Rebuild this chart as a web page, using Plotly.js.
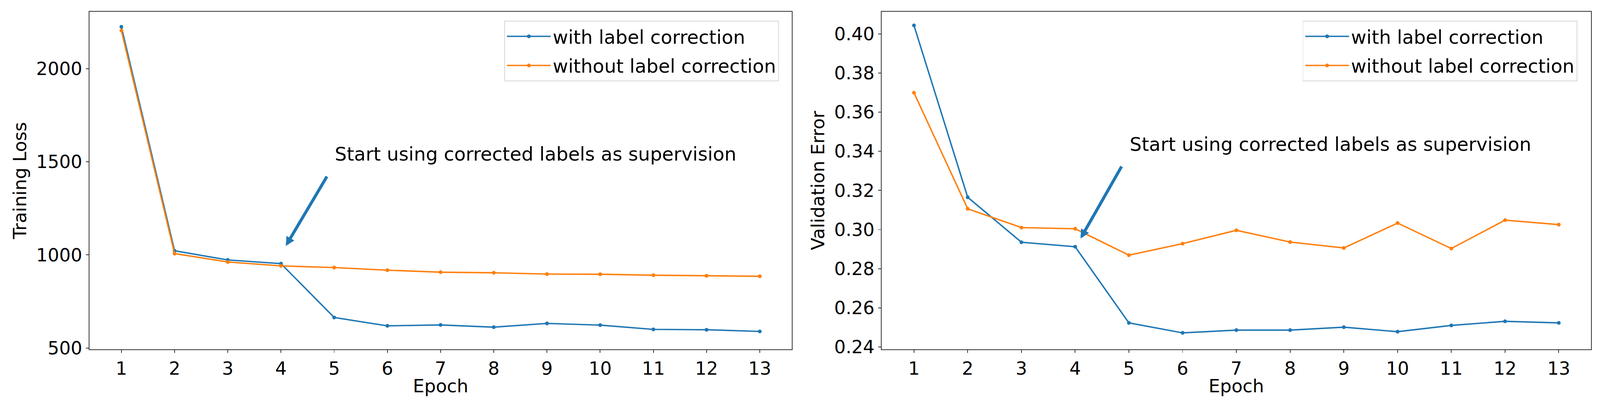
<!DOCTYPE html>
<html>
<head>
<meta charset="utf-8">
<script src="https://cdn.plot.ly/plotly-3.0.1.min.js"></script>
<style>
  html, body { margin: 0; padding: 0; background: #fff; overflow: hidden; }
  #chart { position: absolute; left: 0; top: 0; }
</style>
</head>
<body>
<div id="chart"></div>
<script>
// ---- data ----
const epochs = [1, 2, 3, 4, 5, 6, 7, 8, 9, 10, 11, 12, 13];
const seriesNames = ["with label correction", "without label correction"];
const lossWith = [2225, 1022, 973, 953, 664, 619, 624, 612, 632, 623, 600, 598, 589];
const lossWithout = [2205, 1007, 962, 941, 932, 918, 907, 904, 897, 896, 891, 888, 885];
const errWith = [0.4043, 0.3165, 0.2935, 0.2912, 0.2523, 0.2472, 0.2486, 0.2486, 0.2501, 0.2478, 0.2510, 0.2531, 0.2523];
const errWithout = [0.3699, 0.3106, 0.3010, 0.3004, 0.2869, 0.2928, 0.2996, 0.2936, 0.2906, 0.3033, 0.2903, 0.3048, 0.3025];
const xTitle = "Epoch";
const yTitleLeft = "Training Loss";
const yTitleRight = "Validation Error";
const noteText = "Start using corrected labels as supervision";

// ---- sizing: keep the 4240x1057 proportions inside whatever viewport the page gets ----
const VW = window.innerWidth || 4240;
const VH = window.innerHeight || 1057;
const k = Math.min(VW / 4240, VH / 1057);
const W = Math.round(4240 * k), H = Math.round(1057 * k);
document.getElementById("chart").style.width = W + "px";
document.getElementById("chart").style.height = H + "px";

// plot-area frame (reference pixels)
const ML = 236.6, MR = 4240 - 4216.7, MT = 31, MB = 1057 - 925.7;
const PW = 4240 - ML - MR, PH = 1057 - MT - MB;
const px = (x) => (x - ML) / PW;          // reference x pixel -> paper fraction
const py = (y) => (1057 - MB - y) / PH;   // reference y pixel -> paper fraction

// ---- style ----
const BLUE = "#1f77b4", ORANGE = "#ff7f0e";
const FONT = "DejaVu Sans";
const AX = "#333333";

function tr(x, y, name, color, xa, ya, leg) {
  return {
    x: x, y: y, name: name, type: "scatter", mode: "lines+markers",
    line: { color: color, width: 3.8 * k },
    marker: { color: color, size: 10 * k },
    xaxis: xa, yaxis: ya, legend: leg, legendgroup: leg + name
  };
}

const data = [
  tr(epochs, lossWith, seriesNames[0], BLUE, "x", "y", "legend"),
  tr(epochs, lossWithout, seriesNames[1], ORANGE, "x", "y", "legend"),
  tr(epochs, errWith, seriesNames[0], BLUE, "x2", "y2", "legend2"),
  tr(epochs, errWithout, seriesNames[1], ORANGE, "x2", "y2", "legend2")
];

function xax(domain, anchor) {
  return {
    domain: domain, anchor: anchor, range: [0.4, 13.6],
    tickmode: "linear", tick0: 1, dtick: 1,
    showline: true, mirror: true, linecolor: AX, linewidth: 2.5 * k,
    ticks: "outside", ticklen: 7 * k, tickwidth: 2 * k, tickcolor: AX,
    showgrid: false, zeroline: false, automargin: false,
    tickfont: { family: FONT, size: 48 * k, color: "#000" }
  };
}
function yax(domain, anchor, range, dtick, fmt, title) {
  return {
    domain: domain, anchor: anchor, range: range,
    tickmode: "linear", tick0: 0, dtick: dtick, tickformat: fmt,
    showline: true, mirror: true, linecolor: AX, linewidth: 2.5 * k,
    ticks: "outside", ticklen: 7 * k, tickwidth: 2 * k, tickcolor: AX,
    showgrid: false, zeroline: false, automargin: false,
    tickfont: { family: FONT, size: 48 * k, color: "#000" },
    title: { text: title, font: { family: FONT, size: 48 * k, color: "#000" }, standoff: 11 * k }
  };
}

function legendCfg(xr) {
  return {
    x: px(xr), y: py(55), xanchor: "right", yanchor: "top",
    bgcolor: "rgba(255,255,255,0.8)", bordercolor: "#d6d6d6", borderwidth: 2 * k,
    font: { family: FONT, size: 50 * k, color: "#000" },
    itemwidth: 116 * k, tracegroupgap: 9 * k
  };
}

const leftDom = [0, px(2098)];
const rightDom = [px(2336.6), 1];

function xTitleAnn(dom) {
  return { xref: "paper", yref: "paper", x: (dom[0] + dom[1]) / 2, y: py(1023),
           xanchor: "center", yanchor: "middle", text: xTitle, showarrow: false,
           font: { family: FONT, size: 48 * k, color: "#000" } };
}

const layout = {
  width: W, height: H, autosize: false,
  margin: { l: ML * k, r: MR * k, t: MT * k, b: MB * k, pad: 0 },
  paper_bgcolor: "#fff", plot_bgcolor: "#fff",
  font: { family: FONT, color: "#000" },
  xaxis: xax(leftDom, "y"),
  yaxis: yax([0, 1], "x", [493, 2306], 500, "d", yTitleLeft),
  xaxis2: xax(rightDom, "y2"),
  yaxis2: yax([0, 1], "x2", [0.2388, 0.4113], 0.02, ".2f", yTitleRight),
  showlegend: true,
  legend: legendCfg(2064),
  legend2: legendCfg(4180),
  annotations: [
    xTitleAnn(leftDom),
    xTitleAnn(rightDom),
    { xref: "x", yref: "y", x: 4.09, y: 1048, axref: "x", ayref: "y", ax: 4.87, ay: 1424,
      text: "", showarrow: true, arrowhead: 2, arrowsize: 0.6, arrowwidth: 8 * k, arrowcolor: BLUE },
    { xref: "x", yref: "y", x: 5, y: 1542, xanchor: "left", yanchor: "middle",
      text: noteText, showarrow: false, font: { family: FONT, size: 50 * k, color: "#000" } },
    { xref: "x2", yref: "y2", x: 4.10, y: 0.2954, axref: "x2", ayref: "y2", ax: 4.87, ay: 0.3325,
      text: "", showarrow: true, arrowhead: 2, arrowsize: 0.6, arrowwidth: 8 * k, arrowcolor: BLUE },
    { xref: "x2", yref: "y2", x: 5, y: 0.3436, xanchor: "left", yanchor: "middle",
      text: noteText, showarrow: false, font: { family: FONT, size: 50 * k, color: "#000" } }
  ]
};

Plotly.newPlot("chart", data, layout, { staticPlot: true, displayModeBar: false });
</script>
</body>
</html>
